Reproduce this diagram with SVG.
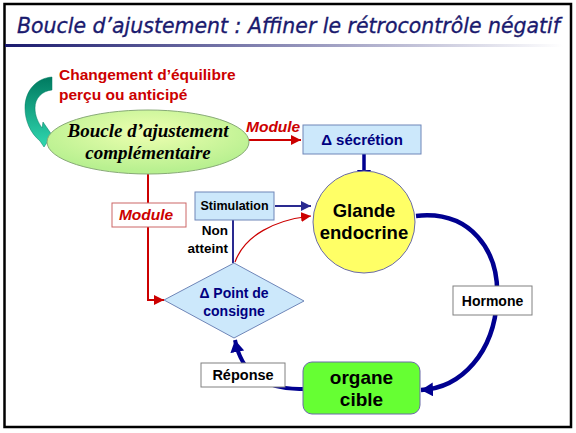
<svg xmlns="http://www.w3.org/2000/svg" width="576" height="433" viewBox="0 0 576 433">
<defs>
<style>
.lab{font-family:"Liberation Sans",Arial,sans-serif;font-weight:bold}
.red{fill:#cc0000}
.navy{fill:#000080}
.box{fill:#cce8fb;stroke:#6f86b8;stroke-width:1}
.wbox{fill:#ffffff;stroke:#808080;stroke-width:1}
</style>
<linearGradient id="tl" x1="0" y1="0" x2="1" y2="0">
<stop offset="0" stop-color="#1a1a6e"/><stop offset="1" stop-color="#ffffff"/>
</linearGradient>
<linearGradient id="ga" x1="0" y1="0" x2="0" y2="1">
<stop offset="0" stop-color="#007a60"/><stop offset="1" stop-color="#30d8b0"/>
</linearGradient>
<radialGradient id="eg" cx="0.5" cy="0.35" r="0.6">
<stop offset="0" stop-color="#eeffb0"/><stop offset="1" stop-color="#b8f090"/>
</radialGradient>
<marker id="ar" markerUnits="userSpaceOnUse" markerWidth="12" markerHeight="10" refX="10" refY="5" orient="auto"><path d="M0,0 L10,5 L0,10 Z" fill="#cc0000"/></marker>
<marker id="ab" markerUnits="userSpaceOnUse" markerWidth="14" markerHeight="14" refX="12" refY="7" orient="auto"><path d="M0,0 L12,7 L0,14 Z" fill="#000090"/></marker>
<marker id="abs" markerUnits="userSpaceOnUse" markerWidth="12" markerHeight="10" refX="10" refY="5" orient="auto"><path d="M0,0 L10,5 L0,10 Z" fill="#2a2a90"/></marker>
</defs>
<rect x="0" y="0" width="576" height="433" fill="#ffffff"/>
<rect x="4.5" y="4" width="566.5" height="423" fill="none" stroke="#000" stroke-width="2.5"/>
<text x="17" y="33" font-family="'DejaVu Sans Condensed','DejaVu Sans',sans-serif" font-style="oblique" font-size="21" fill="#1a1a6e" stroke="#1a1a6e" stroke-width="0.3" textLength="543" lengthAdjust="spacingAndGlyphs">Boucle d’ajustement : Affiner le rétrocontrôle négatif</text>
<rect x="5" y="44" width="558" height="3" fill="url(#tl)"/>

<g id="connectors" fill="none">
<path d="M248,140 L301,140" stroke="#cc0000" stroke-width="2" marker-end="url(#ar)"/>
<path d="M148,174 L148,300 L164,300" stroke="#cc0000" stroke-width="2" marker-end="url(#ar)"/>
<path d="M364,154 L364,182" stroke="#000090" stroke-width="3.5" marker-end="url(#ab)"/>
<path d="M275,206 L311,206" stroke="#2a2a90" stroke-width="2" marker-end="url(#abs)"/>
<path d="M233,220 L233,263" stroke="#2a2a90" stroke-width="2"/>
<path d="M235,262 C245,235 275,220 311,216" stroke="#cc0000" stroke-width="1.2" marker-end="url(#ar)"/>
<path d="M416,216 C470,210 500,250 497,300 C494,352 462,388 421,390" stroke="#000090" stroke-width="4.5" marker-end="url(#ab)"/>
<path d="M303,389 C268,390 242,376 235,340" stroke="#000090" stroke-width="4" marker-end="url(#ab)"/>
</g>

<g id="changement">
<path d="M52,77 L52,90 C42,91 35,98 35,108 C35,116 38,122 42,128 L43,122 L52,135 L44,147 L40,141 C30,133 25,120 25,108 C25,90 37,78 52,77 Z" fill="url(#ga)" stroke="#007a60" stroke-width="0.5"/>
<text class="lab red" font-size="15.5"><tspan x="59" y="80">Changement d’équilibre</tspan><tspan x="59" y="100">perçu ou anticipé</tspan></text>
</g>

<g id="boucle">
<ellipse cx="148" cy="142" rx="101" ry="32" fill="url(#eg)" stroke="#88aa77" stroke-width="1"/>
<text font-family="'Liberation Serif','Times New Roman',serif" font-weight="bold" font-style="italic" font-size="19" text-anchor="middle" fill="#000"><tspan x="148" y="137">Boucle d’ajustement</tspan><tspan x="148" y="159">complémentaire</tspan></text>
</g>

<g id="module1">
<text class="lab red" x="246" y="132" font-size="15.5" font-style="italic">Module</text>
</g>

<g id="secretion">
<rect class="box" x="303" y="125" width="118" height="29"/>
<text class="lab navy" x="362" y="145" font-size="15" text-anchor="middle">Δ  sécrétion</text>
</g>

<g id="glande">
<circle cx="364" cy="222" r="51" fill="#ffff66" stroke="#6a6aa8" stroke-width="1"/>
<text class="lab" font-size="18.5" text-anchor="middle" fill="#000"><tspan x="364" y="217">Glande</tspan><tspan x="364" y="239">endocrine</tspan></text>
</g>

<g id="stimulation">
<rect class="box" x="195" y="192" width="79" height="28"/>
<text class="lab" x="234.5" y="210" font-size="12.5" text-anchor="middle" fill="#000">Stimulation</text>
</g>

<g id="nonatteint">
<text class="lab" font-size="13.5" text-anchor="end" fill="#000"><tspan x="228" y="235">Non</tspan><tspan x="228" y="253">atteint</tspan></text>
</g>

<g id="module2">
<rect x="112" y="203" width="74" height="24" fill="#fff" stroke="#cc6666" stroke-width="1"/>
<text class="lab red" x="146" y="220" font-size="15.5" font-style="italic" text-anchor="middle">Module</text>
</g>

<g id="consigne">
<polygon points="164,300 234,263 304,301 234,338" fill="#cce8fb" stroke="#6f86b8" stroke-width="1"/>
<text class="lab navy" font-size="14" text-anchor="middle"><tspan x="234" y="298">Δ Point de</tspan><tspan x="234" y="316">consigne</tspan></text>
</g>

<g id="hormone">
<rect class="wbox" x="453" y="286" width="79" height="29"/>
<text class="lab" x="492.5" y="306" font-size="14" text-anchor="middle" fill="#000">Hormone</text>
</g>

<g id="organe">
<rect x="303" y="362" width="117" height="52" rx="9" fill="#66ff33" stroke="#6a6aa8" stroke-width="1"/>
<text class="lab" font-size="19" text-anchor="middle" fill="#000"><tspan x="361.5" y="384">organe</tspan><tspan x="361.5" y="406">cible</tspan></text>
</g>

<g id="reponse">
<rect class="wbox" x="201" y="363" width="84" height="24"/>
<text class="lab" x="243" y="380" font-size="14.5" text-anchor="middle" fill="#000">Réponse</text>
</g>
</svg>
